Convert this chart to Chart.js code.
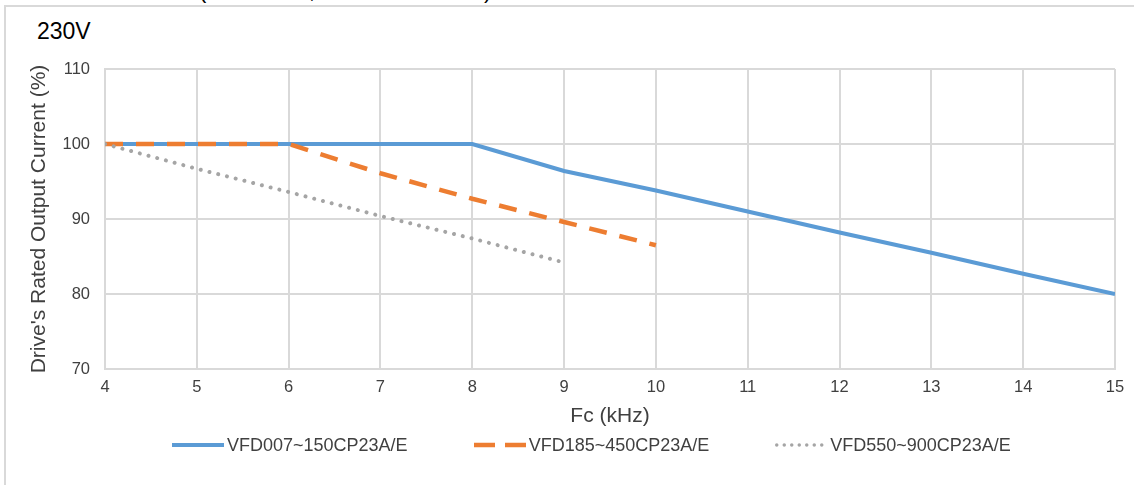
<!DOCTYPE html>
<html>
<head>
<meta charset="utf-8">
<title>230V derating</title>
<script src="https://cdn.jsdelivr.net/npm/chart.js"></script>
<style>
  html, body { margin: 0; padding: 0; background: #fff; }
  body { width: 1134px; height: 485px; position: relative; overflow: hidden;
         font-family: "Liberation Sans", Arial, sans-serif; }
  #frame { position: absolute; left: 4px; top: 5px; width: 1200px; height: 600px;
           border-top: 2px solid #d9d9d9; border-left: 2px solid #d9d9d9; }
  .cut { position: absolute; top: -22px; font-size: 22px; color: #000; }
  #volt { position: absolute; left: 37px; top: 20px; font-size: 23px; line-height: 23px; color: #000; }
  #chart { position: absolute; left: 0; top: 0; }
  #legend { position: absolute; left: 172px; top: 435px; display: flex; gap: 66px;
            font-size: 18px; line-height: 20px; color: #404040; }
  #legend .item { display: flex; align-items: center; }
  #legend svg { margin-right: 3px; }
</style>
</head>
<body>
<div id="frame"></div>
<span class="cut" style="left:199px">(</span>
<span class="cut" style="left:309px">,</span>
<span class="cut" style="left:484px">)</span>
<div id="volt">230V</div>
<canvas id="chart" width="1134" height="485"></canvas>
<div id="legend"></div>
<script>
// carrier frequency (kHz) and rated output current (%)
const fcSmall = [4, 5, 6, 7, 8, 9, 10, 11, 12, 13, 14, 15];
const currentSmall = [100, 100, 100, 100, 100, 96.4, 93.8, 91, 88.2, 85.5, 82.7, 80];

const fcMid = [4, 5, 6, 7, 8, 9, 10];
const currentMid = [100, 100, 100, 96.1, 92.7, 89.6, 86.5];

const fcLarge = [4, 5, 6, 7, 8, 9];
const currentLarge = [100, 96.7, 93.6, 90.4, 87.4, 84.2];

const seriesNames = ["VFD007~150CP23A/E", "VFD185~450CP23A/E", "VFD550~900CP23A/E"];
const xTitle = "Fc (kHz)";
const yTitle = "Drive's Rated Output Current (%)";

const FONT = '"Liberation Sans", Arial, sans-serif';
const TXT = "#404040";
const GRID = "#d9d9d9";

function toPoints(xs, ys) {
    return xs.map((x, i) => ({ x: x, y: ys[i] }));
}

const datasets = [
    {
        label: seriesNames[0],
        data: toPoints(fcSmall, currentSmall),
        borderColor: "#5b9bd5",
        borderWidth: 4,
        order: 3
    },
    {
        label: seriesNames[1],
        data: toPoints(fcMid, currentMid),
        borderColor: "#ed7d31",
        borderWidth: 4.5,
        borderDash: [18, 13],
        order: 2
    },
    {
        label: seriesNames[2],
        data: toPoints(fcLarge, currentLarge),
        borderColor: "#a5a5a5",
        borderWidth: 4,
        borderDash: [0.01, 9],
        borderCapStyle: "round",
        order: 1
    }
];

// legend swatches (dash pattern as drawn in the small legend sample)
const legendDash = ["", "21 10", "0 7.5"];
const legendWidth = [4, 4.5, 3.5];

new Chart(document.getElementById("chart"), {
    type: "line",
    data: { datasets: datasets },
    options: {
        responsive: false,
        animation: false,
        layout: { padding: { left: 23, right: 19, top: 69, bottom: 51.7 } },
        elements: {
            point: { radius: 0 },
            line: { tension: 0, fill: false }
        },
        plugins: {
            legend: { display: false },
            tooltip: { enabled: false }
        },
        scales: {
            x: {
                type: "linear",
                min: 4,
                max: 15,
                ticks: { stepSize: 1, padding: 9, color: TXT, font: { family: FONT, size: 16.5 } },
                grid: { color: GRID, lineWidth: 2, drawTicks: false },
                border: { color: GRID, width: 2 },
                title: { display: true, text: xTitle, color: TXT, padding: { top: 0, bottom: 4 },
                         font: { family: FONT, size: 21 } },
                afterFit: function (scale) { scale.height = 64.3; }
            },
            y: {
                min: 70,
                max: 110,
                ticks: { stepSize: 10, padding: 15, color: TXT, font: { family: FONT, size: 16.5 } },
                grid: { color: GRID, lineWidth: 2, drawTicks: false },
                border: { color: GRID, width: 2 },
                title: { display: true, text: yTitle, color: TXT, padding: { top: 4, bottom: 0 },
                         font: { family: FONT, size: 21 } },
                afterFit: function (scale) { scale.width = 82; }
            }
        }
    }
});

// html legend built from the datasets
const legend = document.getElementById("legend");
datasets.forEach((ds, i) => {
    const item = document.createElement("div");
    item.className = "item";
    const w = legendWidth[i];
    const cap = ds.borderCapStyle === "round" ? "round" : "butt";
    const x0 = cap === "round" ? w / 2 : 0;
    item.innerHTML =
        '<svg width="52" height="10"><line x1="' + x0 + '" y1="5" x2="52" y2="5" stroke="' + ds.borderColor +
        '" stroke-width="' + w + '" stroke-linecap="' + cap + '"' +
        (legendDash[i] ? ' stroke-dasharray="' + legendDash[i] + '"' : "") + '/></svg>';
    const span = document.createElement("span");
    span.textContent = ds.label;
    item.appendChild(span);
    legend.appendChild(item);
});
</script>
</body>
</html>
